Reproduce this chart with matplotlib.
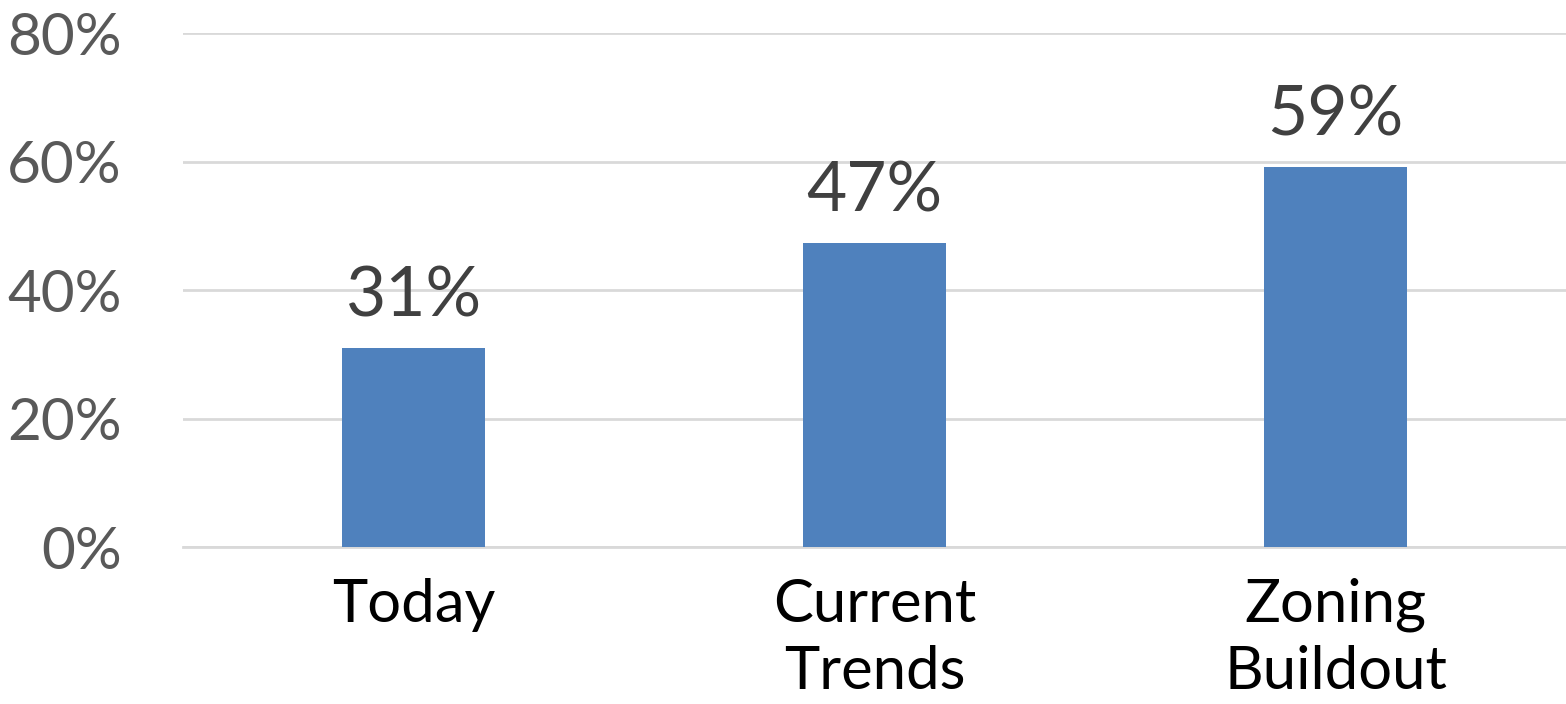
import matplotlib
matplotlib.use("Agg")
from matplotlib import pyplot as plt
from matplotlib.ticker import PercentFormatter

categories = ["Today", "Current\nTrends", "Zoning\nBuildout"]
values = [0.31, 0.473, 0.592]
labels = ["31%", "47%", "59%"]
yticks = [0, 0.2, 0.4, 0.6, 0.8]

plt.rcParams["font.family"] = ["Lato", "DejaVu Sans"]

fig = plt.figure(figsize=(15.66, 7.04), dpi=100)
ax = fig.add_axes([0.1169, 0.223, 0.8831, 0.730])

xs = range(len(categories))
ax.bar(xs, values, width=0.312, color="#4F81BD", zorder=3)

for x, v, lab in zip(xs, values, labels):
   ax.annotate(lab, (x, v), xytext=(0, 14), textcoords="offset points",
               ha="center", va="bottom", fontsize=50, color="#404040")

ax.set_xlim(-0.5, 2.5)
ax.set_ylim(0, 0.8)
ax.set_yticks(yticks)
ax.yaxis.set_major_formatter(PercentFormatter(1.0, decimals=0))
ax.set_xticks(list(xs))
ax.set_xticklabels(categories, fontsize=43, color="#000000", linespacing=1.3)

ax.tick_params(axis="y", length=0, pad=44, labelsize=42, labelcolor="#595959")
ax.tick_params(axis="x", length=0, pad=22)

ax.grid(axis="y", color="#D9D9D9", linewidth=2, zorder=0)
for s in ["top", "right", "left"]:
   ax.spines[s].set_visible(False)
ax.spines["bottom"].set_color("#D9D9D9")
ax.spines["bottom"].set_linewidth(2)

fig.savefig("out.png", dpi=100)
